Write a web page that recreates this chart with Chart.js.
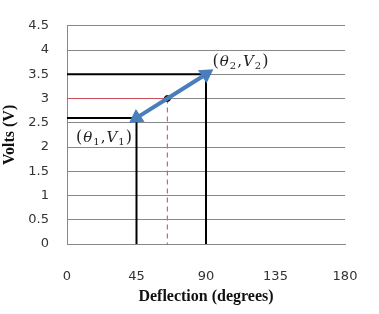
<!DOCTYPE html>
<html>
<head>
<meta charset="utf-8">
<script src="https://cdn.jsdelivr.net/npm/chart.js@4"></script>
<style>
  html, body { margin: 0; padding: 0; background: #fff; }
  #wrap { width: 379px; height: 314px; }
</style>
</head>
<body>
<div id="wrap"><canvas id="deflectionChart"></canvas></div>
<script>
// readings: theta1 / midpoint / theta2 (degrees) and matching volts
const theta = [45, 65, 90];
const volts = [2.6, 3.0, 3.5];
const xTicks = [0, 45, 90, 135, 180];
const yTicks = [0, 0.5, 1, 1.5, 2, 2.5, 3, 3.5, 4, 4.5];
const pointLabels = [["θ", "1", "V", "1"], ["θ", "2", "V", "2"]];

// draws "(θ1,V1)" style labels with italic letters and subscripts
const labelPlugin = {
    id: "pointLabels",
    afterDatasetsDraw(chart) {
        const ctx = chart.ctx;
        const xs = chart.scales.x, ys = chart.scales.y;
        const spots = [
            { x: xs.getPixelForValue(theta[0]) - 32, y: ys.getPixelForValue(volts[0]) + 20 },
            { x: xs.getPixelForValue(theta[2]) + 35, y: ys.getPixelForValue(volts[2]) - 12 }
        ];
        pointLabels.forEach((lab, i) => {
            const runs = [
                { t: "(", f: "16px 'DejaVu Serif'", dy: 0 },
                { t: lab[0], f: "italic 15px 'DejaVu Serif'", dy: 0 },
                { t: lab[1], f: "10px 'DejaVu Serif'", dy: 4 },
                { t: ",", f: "15px 'DejaVu Serif'", dy: 0 },
                { t: lab[2], f: "italic 15px 'DejaVu Serif'", dy: 0 },
                { t: lab[3], f: "10px 'DejaVu Serif'", dy: 4 },
                { t: ")", f: "16px 'DejaVu Serif'", dy: 0 }
            ];
            ctx.save();
            ctx.fillStyle = "#222";
            ctx.textBaseline = "middle";
            ctx.textAlign = "left";
            let total = 0;
            runs.forEach(r => { ctx.font = r.f; r.w = ctx.measureText(r.t).width + 1; total += r.w; });
            let x = spots[i].x - total / 2;
            runs.forEach(r => {
                ctx.font = r.f;
                ctx.fillText(r.t, x, spots[i].y + r.dy);
                x += r.w;
            });
            ctx.restore();
        });
    }
};

const ctx = document.getElementById("deflectionChart").getContext("2d");
new Chart(ctx, {
    type: "scatter",
    data: {
        datasets: [
            {
                // measured line between the two readings
                data: theta.map((t, i) => ({ x: t, y: volts[i] })),
                showLine: true,
                borderColor: "#4a7ebb",
                backgroundColor: "#4a7ebb",
                borderWidth: 4,
                pointStyle: "triangle",
                pointRadius: [5, 0, 5],
                pointRotation: [236, 0, 56],
                order: 0
            },
            {
                data: [{ x: theta[1], y: volts[1] }],
                backgroundColor: "#1a0a0a",
                borderColor: "#1a0a0a",
                pointRadius: 3,
                order: 0
            },
            {
                data: [{ x: 0, y: volts[0] }, { x: theta[0], y: volts[0] }, { x: theta[0], y: 0 }],
                showLine: true,
                borderColor: "#000",
                borderWidth: 2,
                pointRadius: 0,
                order: 2
            },
            {
                data: [{ x: 0, y: volts[2] }, { x: theta[2], y: volts[2] }, { x: theta[2], y: 0 }],
                showLine: true,
                borderColor: "#000",
                borderWidth: 2,
                pointRadius: 0,
                order: 2
            },
            {
                data: [{ x: 0, y: volts[1] }, { x: theta[1], y: volts[1] }],
                showLine: true,
                borderColor: "#d0505a",
                borderWidth: 1,
                pointRadius: 0,
                order: 1
            },
            {
                data: [{ x: theta[1], y: volts[1] }, { x: theta[1], y: 0 }],
                showLine: true,
                borderColor: "#c06a80",
                borderWidth: 1.2,
                borderDash: [5, 4],
                pointRadius: 0,
                order: 1
            }
        ]
    },
    options: {
        responsive: true,
        maintainAspectRatio: false,
        animation: false,
        layout: { padding: { top: 11, right: 34, bottom: 0, left: 0 } },
        plugins: {
            legend: { display: false },
            tooltip: { enabled: false }
        },
        scales: {
            x: {
                type: "linear",
                min: xTicks[0],
                max: xTicks[xTicks.length - 1],
                afterBuildTicks: s => { s.ticks = xTicks.map(v => ({ value: v })); },
                afterFit: s => { s.height = 70; },
                grid: { display: false },
                border: { display: true, color: "#888" },
                ticks: {
                    padding: 17,
                    color: "#333",
                    font: { family: "'DejaVu Sans'", size: 13 },
                    callback: v => String(v)
                },
                title: {
                    display: true,
                    text: "Deflection (degrees)",
                    color: "#111",
                    font: { family: "'Liberation Serif'", size: 16, weight: "bold" },
                    padding: { top: 0, bottom: 8 }
                }
            },
            y: {
                min: yTicks[0],
                max: yTicks[yTicks.length - 1],
                afterBuildTicks: s => { s.ticks = yTicks.map(v => ({ value: v })); },
                afterFit: s => { s.width = 67; },
                grid: { color: "#888", lineWidth: 1, drawTicks: false },
                border: { display: true, color: "#888" },
                ticks: {
                    padding: 18,
                    color: "#333",
                    font: { family: "'DejaVu Sans'", size: 13 },
                    callback: v => String(v)
                },
                title: {
                    display: true,
                    text: "Volts (V)",
                    color: "#111",
                    font: { family: "'Liberation Serif'", size: 16, weight: "bold" },
                    padding: { top: 0, bottom: 0 }
                }
            }
        }
    },
    plugins: [labelPlugin]
});
</script>
</body>
</html>
